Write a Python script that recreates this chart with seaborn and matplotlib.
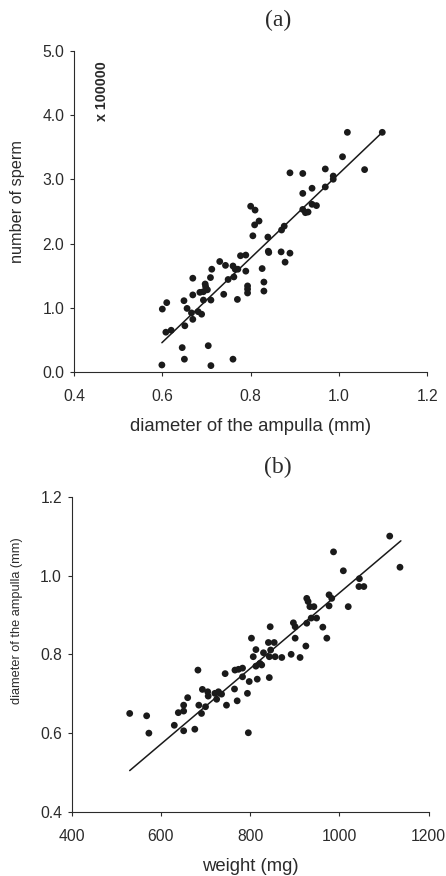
import numpy as np
import pandas as pd
import matplotlib
matplotlib.use("Agg")
import matplotlib.pyplot as plt
import seaborn as sns

# panel (a): ampulla diameter (mm) vs number of sperm (x 100000)
diam_a = [1.019, 1.098, 1.008, 1.058, 0.969, 0.987, 0.987, 0.969, 0.889, 0.918,
          0.918, 0.939, 0.939, 0.949, 0.918, 0.924, 0.930, 0.800, 0.810, 0.819,
          0.809, 0.805, 0.839, 0.870, 0.876, 0.840, 0.841, 0.869, 0.889, 0.878,
          0.826, 0.830, 0.830, 0.777, 0.789, 0.730, 0.743, 0.712, 0.760, 0.765,
          0.771, 0.762, 0.789, 0.749, 0.669, 0.697, 0.698, 0.709, 0.685, 0.693,
          0.702, 0.669, 0.649, 0.693, 0.710, 0.739, 0.770, 0.793, 0.793, 0.793,
          0.600, 0.610, 0.656, 0.666, 0.681, 0.689, 0.669, 0.651, 0.608, 0.620,
          0.645, 0.704, 0.650, 0.760, 0.599, 0.710]
sperm = [3.73, 3.73, 3.35, 3.15, 3.16, 3.05, 3.00, 2.88, 3.10, 3.09,
         2.78, 2.86, 2.61, 2.59, 2.53, 2.48, 2.49, 2.58, 2.52, 2.35,
         2.29, 2.12, 2.10, 2.21, 2.27, 1.88, 1.86, 1.87, 1.85, 1.71,
         1.61, 1.40, 1.26, 1.81, 1.82, 1.72, 1.66, 1.60, 1.65, 1.60,
         1.60, 1.48, 1.57, 1.44, 1.46, 1.37, 1.33, 1.47, 1.24, 1.25,
         1.28, 1.20, 1.11, 1.12, 1.12, 1.21, 1.13, 1.34, 1.29, 1.23,
         0.98, 1.08, 0.99, 0.92, 0.94, 0.90, 0.82, 0.72, 0.62, 0.65,
         0.38, 0.41, 0.20, 0.20, 0.11, 0.10]
fit_a_x = [0.599, 1.098]
fit_a_y = [0.456, 3.73]

# panel (b): body weight (mg) vs ampulla diameter (mm)
weight = [1113, 1136, 987, 1009, 1045, 1044, 1055, 1020, 977, 983,
          977, 927, 930, 934, 943, 937, 949, 897, 901, 927,
          963, 972, 845, 803, 901, 841, 854, 925, 813, 830,
          807, 843, 856, 871, 892, 912, 846, 813, 822, 826,
          783, 843, 816, 798, 766, 774, 783, 744, 683, 765,
          794, 771, 747, 693, 705, 706, 721, 729, 736, 725,
          660, 651, 685, 700, 651, 639, 691, 630, 651, 676,
          796, 573, 530, 568]
diam_b = [1.100, 1.021, 1.060, 1.012, 0.992, 0.972, 0.972, 0.921, 0.951, 0.942,
          0.923, 0.942, 0.934, 0.921, 0.921, 0.892, 0.892, 0.880, 0.870, 0.879,
          0.869, 0.841, 0.870, 0.841, 0.841, 0.830, 0.830, 0.821, 0.812, 0.804,
          0.794, 0.794, 0.794, 0.792, 0.800, 0.792, 0.811, 0.770, 0.777, 0.773,
          0.743, 0.741, 0.737, 0.731, 0.760, 0.762, 0.765, 0.751, 0.760, 0.712,
          0.701, 0.682, 0.671, 0.711, 0.705, 0.694, 0.701, 0.705, 0.699, 0.686,
          0.690, 0.671, 0.671, 0.667, 0.656, 0.652, 0.650, 0.620, 0.606, 0.610,
          0.601, 0.600, 0.650, 0.644]
fit_b_x = [530, 1138]
fit_b_y = [0.505, 1.088]

df_a = pd.DataFrame({"diam": diam_a, "sperm": sperm})
df_b = pd.DataFrame({"weight": weight, "diam": diam_b})

sns.set_style("ticks")
plt.rcParams["font.family"] = ["Liberation Sans", "DejaVu Sans"]
plt.rcParams["xtick.direction"] = "out"
plt.rcParams["ytick.direction"] = "out"

txt = "#2b2b2b"
dot = "#1a1a1a"
serif = ["Liberation Serif", "DejaVu Serif"]

fig = plt.figure(figsize=(4.46, 8.76), dpi=100)
ax1 = fig.add_axes([0.1659, 0.5753, 0.7922, 0.3668])
ax2 = fig.add_axes([0.1608, 0.0731, 0.8000, 0.3599])

sns.scatterplot(data=df_a, x="diam", y="sperm", ax=ax1, color=dot, s=24,
                edgecolor="none", linewidth=0)
sns.lineplot(x=fit_a_x, y=fit_a_y, ax=ax1, color=dot, linewidth=1.1)
ax1.set_xlim(0.4, 1.2)
ax1.set_ylim(0.0, 5.0)
ax1.set_xticks([0.4, 0.6, 0.8, 1.0, 1.2])
ax1.set_yticks([0, 1, 2, 3, 4, 5])
ax1.set_xticklabels(["0.4", "0.6", "0.8", "1.0", "1.2"])
ax1.set_yticklabels(["0.0", "1.0", "2.0", "3.0", "4.0", "5.0"])
ax1.set_xlabel("diameter of the ampulla (mm)", fontsize=13.3, color=txt, va="top")
ax1.set_ylabel("number of sperm", fontsize=11.7, color=txt)
ax1.xaxis.set_label_coords(0.5, -0.143)
ax1.yaxis.set_label_coords(-0.139, 0.532)
ax1.text(0.078, 0.874, "x 100000", transform=ax1.transAxes, rotation=90,
         fontsize=10.3, fontweight="bold", color=txt, ha="center", va="center")

sns.scatterplot(data=df_b, x="weight", y="diam", ax=ax2, color=dot, s=24,
                edgecolor="none", linewidth=0)
sns.lineplot(x=fit_b_x, y=fit_b_y, ax=ax2, color=dot, linewidth=1.1)
ax2.set_xlim(400, 1200)
ax2.set_ylim(0.4, 1.2)
ax2.set_xticks([400, 600, 800, 1000, 1200])
ax2.set_yticks([0.4, 0.6, 0.8, 1.0, 1.2])
ax2.set_yticklabels(["0.4", "0.6", "0.8", "1.0", "1.2"])
ax2.set_xlabel("weight (mg)", fontsize=13.3, color=txt, va="top")
ax2.set_ylabel("diameter of the ampulla (mm)", fontsize=9.2, color=txt)
ax2.xaxis.set_label_coords(0.5, -0.146)
ax2.yaxis.set_label_coords(-0.137, 0.606)

for ax in (ax1, ax2):
    sns.despine(ax=ax)
    ax.tick_params(labelsize=11.3, colors=txt, length=3, width=0.8)
    ax.tick_params(axis="x", pad=9)
    ax.tick_params(axis="y", pad=4)
    for sp in ax.spines.values():
        sp.set_linewidth(0.8)
        sp.set_color(txt)

fig.text(0.623, 0.977, "(a)", fontsize=17, family=serif,
         color=txt, ha="center", va="center")
fig.text(0.623, 0.466, "(b)", fontsize=17, family=serif,
         color=txt, ha="center", va="center")

fig.savefig("out.png", dpi=100)
